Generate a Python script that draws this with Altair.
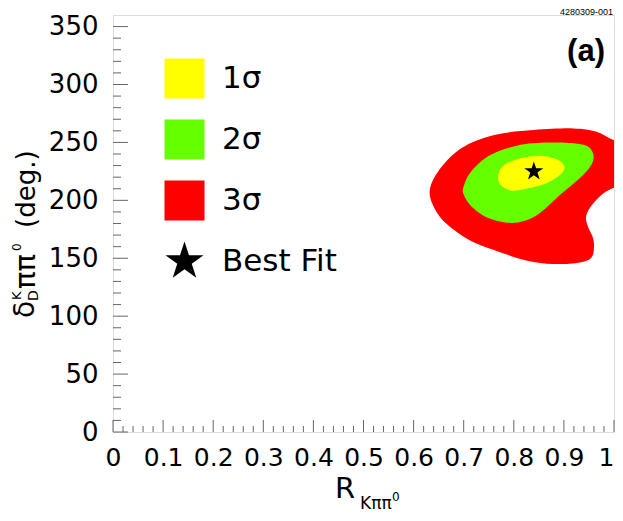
import altair as alt
import pandas as pd

# ---------------- data ----------------
x_major = [0.0, 0.1, 0.2, 0.3, 0.4, 0.5, 0.6, 0.7, 0.8, 0.9, 1.0]
x_minor = [round(0.02 * i, 2) for i in range(1, 50) if i % 5 != 0]
y_major = [0, 50, 100, 150, 200, 250, 300, 350]
y_minor = [v for v in range(10, 360, 10) if v % 50 != 0]

# 3 sigma contour (red), continues past the right frame and is clipped there
red_x = [0.632, 0.649, 0.695, 0.761, 0.840, 0.919, 0.965, 0.998, 1.03, 1.03,
         0.998, 0.972, 0.952, 0.944, 0.949, 0.958, 0.960, 0.955, 0.932, 0.879,
         0.827, 0.774, 0.721, 0.675, 0.649]
red_y = [206.4, 225.0, 245.0, 256.5, 260.7, 262.1, 259.3, 252.2, 247.0, 214.0,
         210.7, 203.6, 193.5, 185.0, 176.4, 167.8, 159.3, 150.7, 146.4, 145.0,
         147.9, 155.0, 163.5, 176.4, 187.9]
# 2 sigma contour (green)
green_x = [0.700, 0.715, 0.754, 0.814, 0.879, 0.939, 0.958, 0.955, 0.932, 0.893,
           0.853, 0.820, 0.787, 0.748, 0.715, 0.700]
green_y = [212.1, 225.0, 239.3, 247.9, 249.9, 247.9, 240.7, 230.7, 219.3, 205.0,
           189.3, 182.1, 180.7, 185.0, 195.0, 205.0]
# 1 sigma contour (yellow)
yellow_x = [0.769, 0.781, 0.814, 0.853, 0.886, 0.901, 0.893, 0.866, 0.827, 0.794, 0.773]
yellow_y = [222.2, 230.7, 236.4, 238.5, 235.5, 229.3, 222.2, 215.0, 210.2, 208.5, 213.6]
# best fit
best_fit_x = [0.840]
best_fit_y = [225.0]

legend_labels = ["1σ", "2σ", "3σ", "Best Fit"]
legend_colors = ["#ffff00", "#66ff00", "#ff0000", "#000000"]

STAR = ("M0,-1L0.2245,-0.309L0.951,-0.309L0.363,0.118L0.588,0.809L0,0.382"
        "L-0.588,0.809L-0.363,0.118L-0.951,-0.309L-0.2245,-0.309Z")

W, H = 501, 417
FONT = "DejaVu Sans"

xs = alt.Scale(domain=[0, 1], nice=False, zero=False)
ys = alt.Scale(domain=[0, 360], nice=False, zero=False)
x_axis = alt.Axis(values=x_major, format="~g", title=None, grid=False, ticks=False,
                  tickSize=0, domain=False, labelFont=FONT, labelFontSize=25,
                  labelPadding=13, labelColor="black", labelFlush=False,
                  labelAlign={"condition": {"test": "datum.value >= 1", "value": "right"},
                              "value": "center"})
y_axis = alt.Axis(values=y_major, format="d", title=None, grid=False, ticks=False,
                  tickSize=0, domain=False, labelFont=FONT, labelFontSize=26,
                  labelPadding=15, labelColor="black", labelFlush=False)


def contour(xv, yv, color, clip=False):
    df = pd.DataFrame({"x": xv, "y": yv, "i": list(range(len(xv)))})
    return alt.Chart(df).mark_line(
        filled=True, color=color, interpolate="cardinal-closed", clip=clip
    ).encode(
        x=alt.X("x:Q", scale=xs, axis=x_axis),
        y=alt.Y("y:Q", scale=ys, axis=y_axis),
        order=alt.Order("i:Q"),
    )


red = contour(red_x, red_y, "#ff0000", clip=True)
green = contour(green_x, green_y, "#66ff00")
yellow = contour(yellow_x, yellow_y, "#ffff00")

leg = alt.Legend(title=None, orient="none", legendX=51, legendY=43,
                 symbolSize=1600, rowPadding=16, labelFont=FONT,
                 labelFontSize=31, labelOffset=17, labelLimit=400,
                 labelColor="black", symbolStrokeColor="#333333",
                 symbolStrokeWidth=1, padding=0, symbolOpacity=1)

star = alt.Chart(pd.DataFrame({"x": best_fit_x, "y": best_fit_y, "k": ["Best Fit"]})).mark_point(
    filled=True, size=400, opacity=1, strokeWidth=0
).encode(
    x=alt.X("x:Q", scale=xs, axis=x_axis),
    y=alt.Y("y:Q", scale=ys, axis=y_axis),
    color=alt.Color("k:N", scale=alt.Scale(domain=legend_labels, range=legend_colors),
                    legend=leg),
    shape=alt.Shape("k:N", scale=alt.Scale(domain=legend_labels,
                                           range=["square", "square", "square", STAR]),
                    legend=leg),
)

TICK = "#666666"
y_minor_l = alt.Chart(pd.DataFrame({"v": y_minor})).mark_rule(color=TICK, strokeWidth=1).encode(
    y=alt.Y("v:Q", scale=ys, axis=y_axis), x=alt.value(0), x2=alt.value(8))
y_major_l = alt.Chart(pd.DataFrame({"v": y_major})).mark_rule(color=TICK, strokeWidth=1).encode(
    y=alt.Y("v:Q", scale=ys, axis=y_axis), x=alt.value(0), x2=alt.value(15))
x_minor_l = alt.Chart(pd.DataFrame({"v": x_minor})).mark_rule(color=TICK, strokeWidth=1).encode(
    x=alt.X("v:Q", scale=xs, axis=x_axis), y=alt.value(H), y2=alt.value(H - 6))
x_major_l = alt.Chart(pd.DataFrame({"v": x_major})).mark_rule(color=TICK, strokeWidth=1).encode(
    x=alt.X("v:Q", scale=xs, axis=x_axis), y=alt.value(H), y2=alt.value(H - 12))


def label(txt, x, y, size, angle=0, align="left", font=FONT, weight="normal", baseline="alphabetic"):
    return alt.Chart(pd.DataFrame({"t": [txt]})).mark_text(
        font=font, fontSize=size, fontWeight=weight, angle=angle, align=align,
        baseline=baseline, color="black"
    ).encode(text="t:N", x=alt.value(x), y=alt.value(y))


texts = [
    # x-axis title  R_{Kππ^0}
    label("R", 222, 483, 29),
    label("Kππ", 247, 494, 17),
    label("0", 279, 486, 12),
    # y-axis title  δ_D^K ππ^0 (deg.)
    label("δ", -79, 303, 28, angle=270),
    label("D", -75, 286, 14, angle=270),
    label("K", -92.5, 285, 13, angle=270),
    label("ππ", -78, 274, 29, angle=270),
    label("0", -92.5, 236, 12, angle=270),
    label("(deg.)", -78.5, 213, 26, angle=270),
    # panel tag and figure id
    label("(a)", 473, 45.5, 31, align="center", font="Liberation Sans", weight="bold"),
    label("4280309-001", 500, 0, 9, align="right", font="Liberation Sans"),
]

chart = alt.layer(
    red, green, yellow, y_minor_l, y_major_l, x_minor_l, x_major_l, star, *texts
).resolve_scale(color="shared", shape="shared").properties(
    width=W, height=H,
    autosize=alt.AutoSizeParams(type="none"),
    padding={"left": 105, "top": 7, "right": 1, "bottom": 81},
).configure_view(
    stroke="black", strokeWidth=2
).configure(background="white")

chart.save("out.html", embed_options={"renderer": "svg", "actions": False})
